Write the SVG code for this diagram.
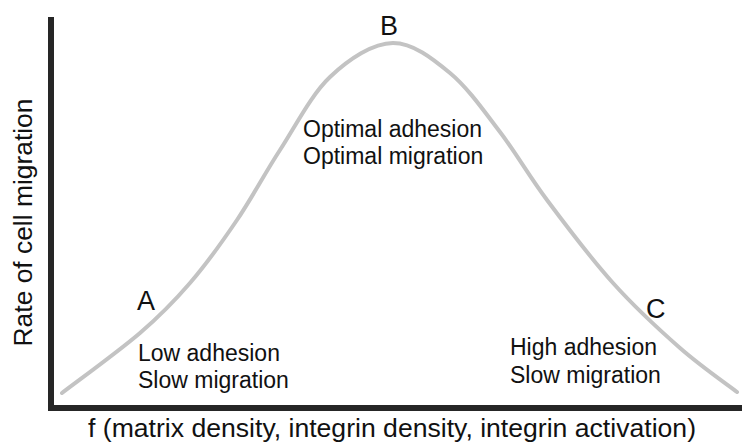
<svg xmlns="http://www.w3.org/2000/svg" width="742" height="444" viewBox="0 0 742 444">
<style>
text{font-family:"Liberation Sans",Arial,sans-serif;fill:#111}
.lbl{font-size:23px}
.pt{font-size:27px}
.ax{font-size:26.4px}
.axis{stroke:#262626;stroke-width:6;fill:none}
.curve{stroke:#c3c3c3;stroke-width:4;fill:none;stroke-linecap:round}
</style>
<rect width="742" height="444" fill="#fff"/>
<g id="axes">
<path class="axis" d="M51,17 V408 H742"/>
<text id="y-title" class="ax" x="32" y="222.5" text-anchor="middle" transform="rotate(-90 32 222.5)">Rate of cell migration</text>
<text id="x-title" class="ax" x="392" y="437" text-anchor="middle" textLength="608" lengthAdjust="spacingAndGlyphs">f (matrix density, integrin density, integrin activation)</text>
</g>
<g id="curve">
<path class="curve" d="M62,393 C75,383 118.7,351.3 140,333 C161.3,314.7 173.8,301.8 190,283 C206.2,264.2 222,242.2 237,220 C252,197.8 264.5,173.8 280,150 C295.5,126.2 311.2,94.8 330,77 C348.8,59.2 373,43 393,43 C413,43 432.2,58.2 450,73 C467.8,87.8 483.8,110.8 500,132 C516.2,153.2 528.2,174.8 547,200 C565.8,225.2 590.8,258.3 613,283 C635.2,307.7 659.3,329.8 680,348 C700.7,366.2 727.5,384.7 737,392"/>
</g>
<g id="point-A">
<text class="pt" x="137" y="310">A</text>
<text class="lbl" x="138" y="361">Low adhesion</text>
<text class="lbl" x="138" y="388">Slow migration</text>
</g>
<g id="point-B">
<text class="pt" x="380" y="35">B</text>
<text class="lbl" x="303" y="137">Optimal adhesion</text>
<text class="lbl" x="303" y="164">Optimal migration</text>
</g>
<g id="point-C">
<text class="pt" x="646" y="318">C</text>
<text class="lbl" x="510" y="355">High adhesion</text>
<text class="lbl" x="510" y="383">Slow migration</text>
</g>
</svg>
